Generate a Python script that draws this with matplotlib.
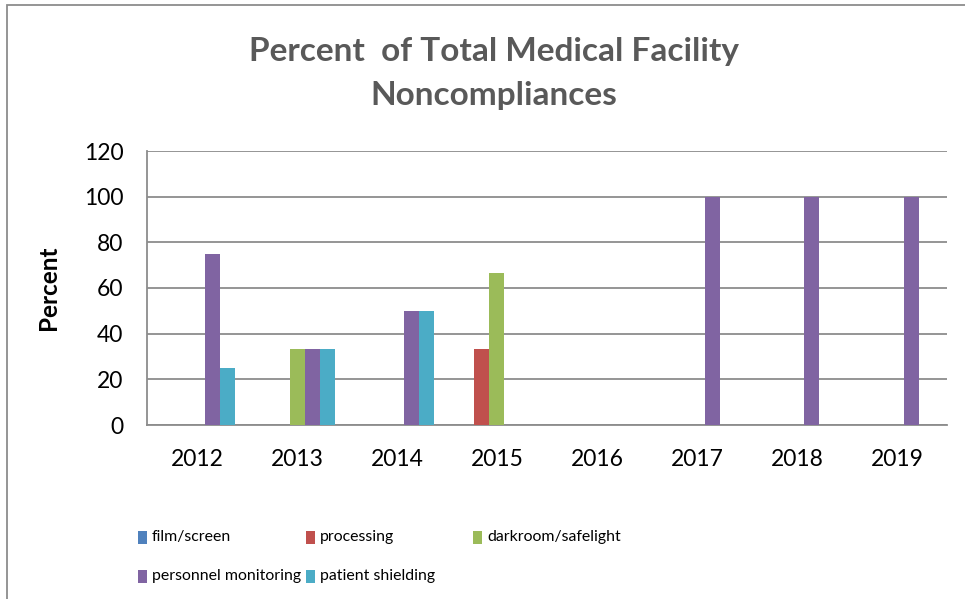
import matplotlib
matplotlib.use("Agg")
import matplotlib.pyplot as plt
from matplotlib.patches import Rectangle
import numpy as np

plt.rcParams['font.family'] = ['Lato', 'DejaVu Sans']

years = ['2012', '2013', '2014', '2015', '2016', '2017', '2018', '2019']
series_names = ['film/screen', 'processing', 'darkroom/safelight',
                'personnel monitoring', 'patient shielding']
film_screen = [0, 0, 0, 0, 0, 0, 0, 0]
processing = [0, 0, 0, 33.3, 0, 0, 0, 0]
darkroom_safelight = [0, 33.3, 0, 66.7, 0, 0, 0, 0]
personnel_monitoring = [75, 33.3, 50, 0, 0, 100, 100, 100]
patient_shielding = [25, 33.3, 50, 0, 0, 0, 0, 0]
colors = ['#4F81BD', '#C0504D', '#9BBB59', '#8064A2', '#4BACC6']
yticks = [0, 20, 40, 60, 80, 100, 120]

data = [film_screen, processing, darkroom_safelight, personnel_monitoring, patient_shielding]

W, H = 965, 599
fig = plt.figure(figsize=(W / 100, H / 100), dpi=100)
ax = fig.add_axes([147 / W, 1 - 425 / H, (947 - 147) / W, (425 - 151) / H])

x = np.arange(len(years))
bw = 0.15
for i, (vals, c) in enumerate(zip(data, colors)):
    ax.bar(x + (i - 2) * bw, vals, width=bw, color=c, edgecolor='none', zorder=3)

ax.set_xlim(-0.5, len(years) - 0.5)
ax.set_ylim(0, 120)
ax.set_yticks(yticks)
ax.set_yticklabels([str(t) for t in yticks])
ax.set_xticks(x)
ax.set_xticklabels(years)
ax.tick_params(axis='both', length=0, labelsize=16.5, colors='black')
ax.tick_params(axis='y', pad=17)
ax.tick_params(axis='x', pad=17)
ax.grid(axis='y', color='#8C8C8C', linewidth=1.3, zorder=0)
for s in ['top', 'right']:
    ax.spines[s].set_visible(False)
for s in ['left', 'bottom']:
    ax.spines[s].set_color('#8C8C8C')
    ax.spines[s].set_linewidth(1.3)

ax.set_ylabel('Percent', fontsize=17.5, fontweight='bold')
ax.yaxis.set_label_coords(-87 / 800, 0.5)

fig.text(494 / W, 1 - 51 / H, 'Percent  of Total Medical Facility', ha='center', va='center',
         fontsize=24, fontweight='bold', color='#595959')
fig.text(494 / W, 1 - 96 / H, 'Noncompliances', ha='center', va='center',
         fontsize=24, fontweight='bold', color='#595959')

# chart frame
fig.patches.append(Rectangle((7 / W, -0.1), 1.2, 1 - 5 / H + 0.1, transform=fig.transFigure,
                             fill=False, edgecolor='#8C8C8C', linewidth=1.3))

# legend (Excel style: 3 columns, row-major)
leg_x = [138, 306, 473, 138, 306]
leg_y = [537, 537, 537, 576, 576]
for name, c, lx, ly in zip(series_names, colors, leg_x, leg_y):
    fig.patches.append(Rectangle((lx / W, 1 - (ly + 6.5) / H), 9 / W, 13 / H,
                                 transform=fig.transFigure, facecolor=c, edgecolor='none'))
    fig.text((lx + 14) / W, 1 - ly / H, name, ha='left', va='center', fontsize=11.4)

fig.savefig('out.png', dpi=100)
